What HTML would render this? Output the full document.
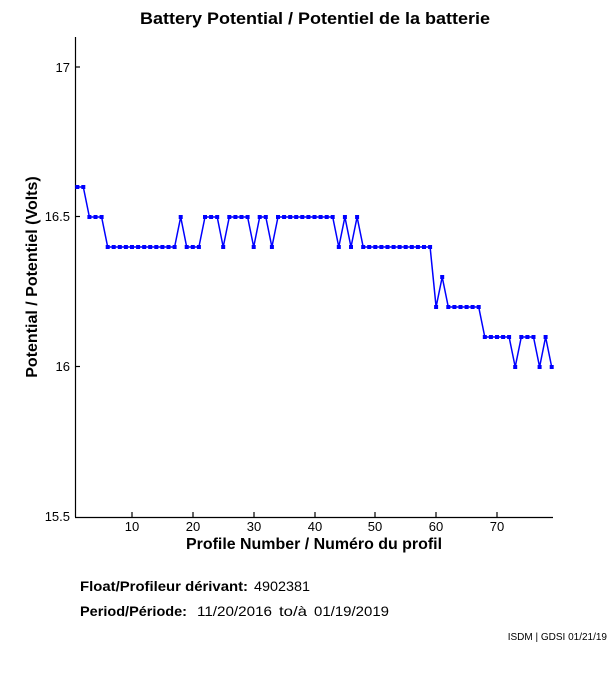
<!DOCTYPE html>
<html><head><meta charset="utf-8"><style>
body{margin:0;background:#fff;}
svg{display:block;font-family:"Liberation Sans",Arial,sans-serif;}
</style></head><body>
<svg id="s" width="611" height="675" viewBox="0 0 611 675">
<rect width="611" height="675" fill="#fff"/>
<text x="140" y="24" font-size="17" font-weight="bold" textLength="350" lengthAdjust="spacingAndGlyphs">Battery Potential / Potentiel de la batterie</text>
<g stroke="#000" stroke-width="1.2" fill="none">
<line x1="75.5" y1="37" x2="75.5" y2="517"/>
<line x1="75" y1="517.5" x2="553" y2="517.5"/>
<line x1="75" y1="67" x2="80" y2="67"/><line x1="75" y1="216.5" x2="80" y2="216.5"/><line x1="75" y1="366.5" x2="80" y2="366.5"/>
<line x1="132" y1="517" x2="132" y2="512"/><line x1="193" y1="517" x2="193" y2="512"/><line x1="254" y1="517" x2="254" y2="512"/><line x1="315" y1="517" x2="315" y2="512"/><line x1="375" y1="517" x2="375" y2="512"/><line x1="436" y1="517" x2="436" y2="512"/><line x1="497" y1="517" x2="497" y2="512"/>
</g>
<g font-size="13" text-anchor="end">
<text x="70" y="72">17</text><text x="70" y="221">16.5</text><text x="70" y="371">16</text><text x="70" y="521">15.5</text>
</g>
<g font-size="13" text-anchor="middle">
<text x="132" y="531">10</text><text x="193" y="531">20</text><text x="254" y="531">30</text><text x="315" y="531">40</text><text x="375" y="531">50</text><text x="436" y="531">60</text><text x="497" y="531">70</text>
</g>
<text x="186" y="549" font-size="16" font-weight="bold" textLength="256" lengthAdjust="spacingAndGlyphs">Profile Number / Numéro du profil</text>
<text transform="translate(37,277) rotate(-90)" text-anchor="middle" font-size="16" font-weight="bold">Potential / Potentiel (Volts)</text>
<text y="591" font-size="14"><tspan x="80" font-weight="bold" textLength="168" lengthAdjust="spacingAndGlyphs">Float/Profileur dérivant:</tspan><tspan x="254" textLength="56" lengthAdjust="spacingAndGlyphs">4902381</tspan></text>
<text y="616" font-size="14"><tspan x="80" font-weight="bold" textLength="107" lengthAdjust="spacingAndGlyphs">Period/Période:</tspan><tspan x="197" textLength="75" lengthAdjust="spacingAndGlyphs">11/20/2016</tspan><tspan x="279" textLength="28" lengthAdjust="spacingAndGlyphs">to/à</tspan><tspan x="314" textLength="75" lengthAdjust="spacingAndGlyphs">01/19/2019</tspan></text>
<text x="607" y="640" text-anchor="end" font-size="10">ISDM | GDSI 01/21/19</text>
<g id="d"></g>
</svg>
<script>
var v=[16.6,16.6,16.5,16.5,16.5];
for(var i=6;i<=17;i++)v.push(16.4);
v.push(16.5,16.4,16.4,16.4,16.5,16.5,16.5,16.4,16.5,16.5,16.5,16.5,16.4,16.5,16.5,16.4);
for(i=34;i<=43;i++)v.push(16.5);
v.push(16.4,16.5,16.4,16.5);
for(i=48;i<=59;i++)v.push(16.4);
v.push(16.2,16.3);
for(i=62;i<=67;i++)v.push(16.2);
for(i=68;i<=72;i++)v.push(16.1);
v.push(16.0,16.1,16.1,16.1,16.0,16.1,16.0);
var pts=[],h='';
for(i=0;i<v.length;i++){var x=77.25+i*6.083,y=517-(v[i]-15.5)*300;pts.push(x.toFixed(1)+','+y.toFixed(1));h+='<rect x="'+(x-2).toFixed(1)+'" y="'+(y-2).toFixed(1)+'" width="4" height="4" fill="#0000ff"/>';}
document.getElementById('d').innerHTML='<polyline points="'+pts.join(' ')+'" fill="none" stroke="#0000ff" stroke-width="1.5"/>'+h;
</script>
</body></html>
